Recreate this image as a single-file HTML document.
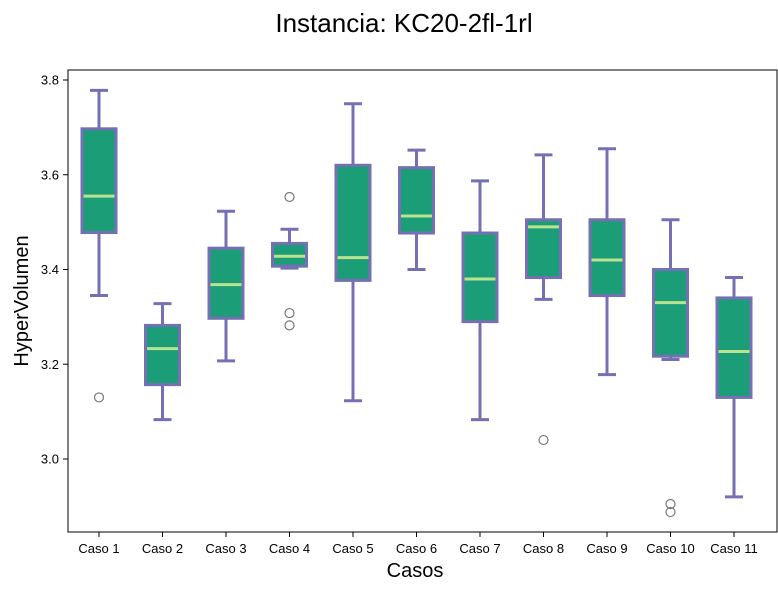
<!DOCTYPE html>
<html><head><meta charset="utf-8"><style>
body{margin:0;background:#fff;}
svg{font-family:"Liberation Sans","DejaVu Sans",sans-serif;display:block;}
</style></head><body>
<svg id="chart" width="778" height="591">
<text x="404" y="32" font-size="26" text-anchor="middle">Instancia: KC20-2fl-1rl</text>
<text x="415" y="577" font-size="20" text-anchor="middle">Casos</text>
<text transform="translate(28,301) rotate(-90)" font-size="20" text-anchor="middle">HyperVolumen</text>
<g id="plot"></g>
<rect x="68" y="70" width="709" height="462" fill="none" stroke="#000" stroke-width="1"/>
</svg>
<script>
const categories=["Caso 1","Caso 2","Caso 3","Caso 4","Caso 5","Caso 6","Caso 7","Caso 8","Caso 9","Caso 10","Caso 11"];
const whiskerLow=[3.345,3.083,3.207,3.403,3.123,3.400,3.083,3.337,3.178,3.210,2.920];
const q1=[3.478,3.157,3.297,3.407,3.377,3.477,3.290,3.383,3.345,3.217,3.130];
const medians=[3.555,3.233,3.368,3.428,3.425,3.513,3.380,3.490,3.420,3.330,3.227];
const q3=[3.697,3.282,3.445,3.455,3.620,3.615,3.477,3.505,3.505,3.400,3.340];
const whiskerHigh=[3.778,3.328,3.523,3.485,3.750,3.652,3.587,3.642,3.655,3.505,3.383];
const outliers=[[3.13],[],[],[3.553,3.308,3.282],[],[],[],[3.04],[],[2.905,2.888],[]];
const yTicks=[3.0,3.2,3.4,3.6,3.8];
const NS="http://www.w3.org/2000/svg";
const g=document.getElementById("plot");
function y(v){return 80+(3.8-v)*473.75;}
function x(i){return 99+i*63.5;}
function mk(tag,attrs){const e=document.createElementNS(NS,tag);for(const k in attrs)e.setAttribute(k,attrs[k]);g.appendChild(e);return e;}
yTicks.forEach(t=>{
  const l=mk("line",{x1:63,x2:68,y1:y(t),y2:y(t),stroke:"#000"});
  
  
  const tx=mk("text",{x:59,y:y(t)+4.5,"font-size":13,"text-anchor":"end"});
  tx.textContent=t.toFixed(1);
  
  
});
const purple="#7570b3",hw=17,cw=9;
categories.forEach((c,i)=>{
  const cx=x(i);
  const tk=mk("line",{x1:cx,x2:cx,y1:532,y2:537,stroke:"#000"});
  
  
  const tl=mk("text",{x:cx,y:553,"font-size":13,"text-anchor":"middle"});
  tl.textContent=c;
  
  
  const w1=mk("line",{x1:cx,x2:cx,y1:y(whiskerHigh[i]),y2:y(q3[i]),stroke:purple,"stroke-width":3});
  
  
  const w2=mk("line",{x1:cx,x2:cx,y1:y(q1[i]),y2:y(whiskerLow[i]),stroke:purple,"stroke-width":3});
  
  
  const c1=mk("line",{x1:cx-cw,x2:cx+cw,y1:y(whiskerHigh[i]),y2:y(whiskerHigh[i]),stroke:purple,"stroke-width":3});
  
  
  const c2=mk("line",{x1:cx-cw,x2:cx+cw,y1:y(whiskerLow[i]),y2:y(whiskerLow[i]),stroke:purple,"stroke-width":3});
  
  
  const b=mk("rect",{x:cx-hw,y:y(q3[i]),width:2*hw,height:y(q1[i])-y(q3[i]),fill:"#1b9e77",stroke:purple,"stroke-width":3});
  
  
  const m=mk("line",{x1:cx-hw+1.5,x2:cx+hw-1.5,y1:y(medians[i]),y2:y(medians[i]),stroke:"#b9e38f","stroke-width":3});
  
  
  outliers[i].forEach(o=>{
    const p=mk("circle",{cx:cx,cy:y(o),r:4.5,fill:"none",stroke:"#777","stroke-width":1.2});
    
    
  });
});
</script>
</body></html>
